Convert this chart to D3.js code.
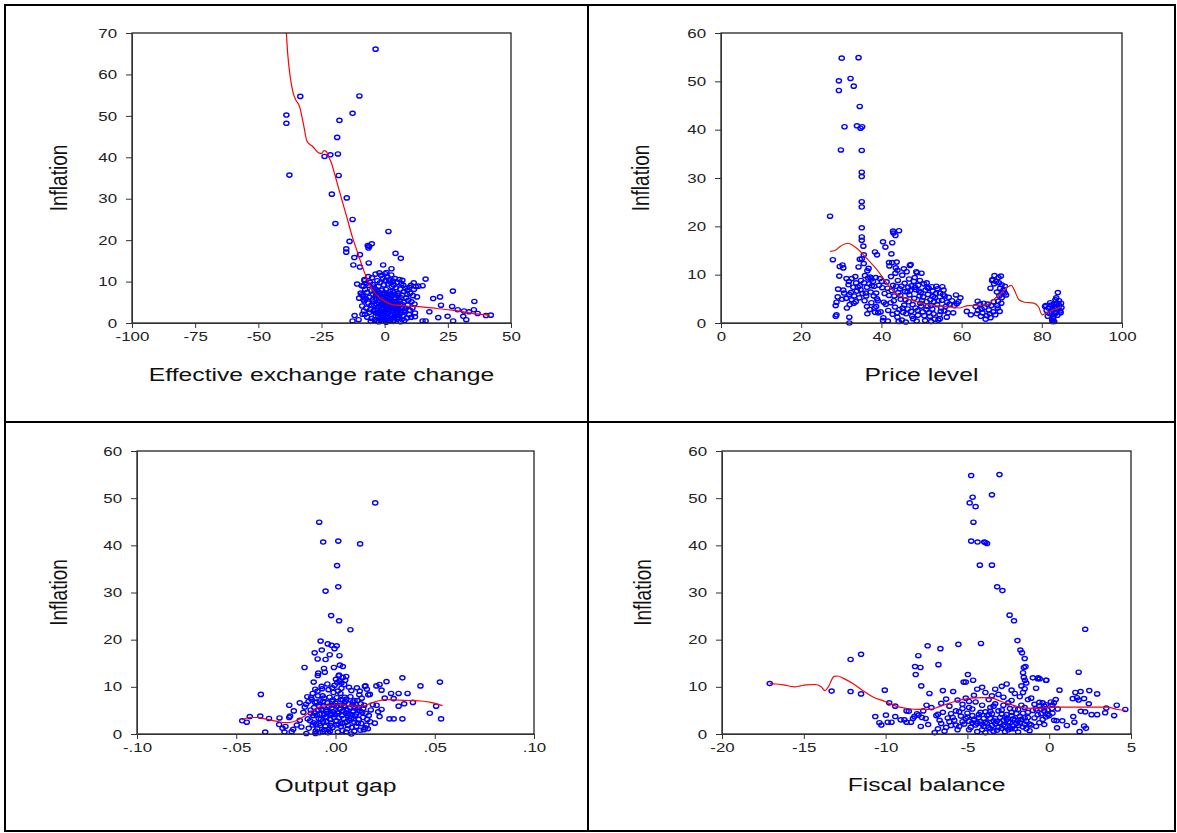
<!DOCTYPE html>
<html>
<head>
<meta charset="utf-8">
<script src="https://cdn.jsdelivr.net/npm/d3@7/dist/d3.min.js"></script>
<style>
  body { margin: 0; background: #fff; }
  svg { display: block; }
</style>
</head>
<body>
<div id="chart"></div>
<script>
// ---- tick values and labels ----
var inflationTicks70 = [0, 10, 20, 30, 40, 50, 60, 70];
var inflationTicks60 = [0, 10, 20, 30, 40, 50, 60];
var exchangeTicks = [-100, -75, -50, -25, 0, 25, 50];
var priceTicks = [0, 20, 40, 60, 80, 100];
var gapTicks = [-0.10, -0.05, 0, 0.05, 0.10];
var gapTickLabels = ["-.10", "-.05", ".00", ".05", ".10"];
var fiscalTicks = [-20, -15, -10, -5, 0, 5];

// ---- panel 1: effective exchange rate change vs inflation ----
var exchangePoints = [
  [-3.6,66.1],[-33.4,54.7],[-10,54.8],[-38.9,50.2],[-38.9,48.2],[-12.7,50.6],[-17.9,48.9],[-18.8,44.8],
  [-23.8,40.2],[-21.5,40.6],[-18.5,40.8],[-37.7,35.7],[-18.2,35.6],[-20.9,31.1],[-15,30.2],[-12.7,25],
  [-19.5,24],[1.5,22.1],[-13.9,19.7],[-15.2,17.9],[-15.2,17.1],[-6.7,18.7],[-6.1,18.5],[-5.1,19.1],
  [-6.4,18.1],[-9.8,16.5],[-12,15.8],[4.3,16.8],[6.4,15.6],[-12.4,14],[-6.3,14.5],[-0.6,14],[2.7,13.1],
  [-9.8,13.5],[16.2,10.6],[11.5,9.7],[13.3,8.9],[15,9],[12.8,6.3],[19.2,5.9],[21.9,6.3],[27,7.7],
  [35.5,5.2],[22.3,4.3],[17.7,2.7],[21.2,1.3],[24.9,1.6],[26.7,4],[28.9,3.2],[31.4,2.9],[33.4,2.7],
  [27.1,0.5],[32.3,0.8],[31.1,1.6],[35.3,3.2],[36.8,2.3],[40.1,1.8],[42,1.9],[15,0.5],[16.2,0.5],
  [12,1.5],[-12.7,0.5],[-10.3,0.8],[-11.9,1.8],[-8.8,2.1],[-8.2,2.9],[-10.1,6],[-9.1,6.8],[-8.3,5.6],
  [-10.9,9.4],[-9.1,9],[-8,10.2],
  [-8,10.5],[-7.2,9.6],[-6.5,11.2],[-5.8,9.8],[-5,10.9],[-4.3,8.7],[-3.6,11.8],[-2.9,10.2],[-2.1,12.1],
  [-1.4,11.5],[-0.7,10.8],[0.2,11.9],[1,11.2],[1.8,10.4],[2.6,11.6],[3.3,10.1],[4.1,10.7],[5,9.8],
  [5.8,10.5],[6.6,9.5],[7.4,9.1],[8.2,8.4],[9,7.9],[10.1,7.2],[11.2,6.6],[-9.5,7.2],[-8.6,6.5],[-7.7,8.1],
  [-6.9,7.4],[-6.1,6.2],[-5.3,7.8],[-4.6,6.9],[-3.8,8.2],[-3.1,7.1],[-2.4,8.9],[-1.7,6.8],[-1,7.9],
  [-0.3,9.2],[0.5,8.1],[1.3,9.4],[2.1,7.6],[2.9,8.8],[3.7,7.3],[4.5,8.5],[5.3,7.1],[6.1,8.2],[6.9,6.7],
  [7.7,7.6],[8.5,6.1],[9.4,5.5],[10.6,5.1],[11.8,4.6],[-8.9,4.1],[-8.1,5.3],[-7.3,3.6],[-6.5,4.8],
  [-5.7,3.2],[-4.9,5.6],[-4.1,4.3],[-3.3,5.9],[-2.5,3.9],[-1.8,5.2],[-1.1,4.6],[-0.4,6.1],[0.3,4.9],
  [1.1,6.3],[1.9,5.1],[2.7,6.6],[3.5,4.4],[4.3,5.8],[5.1,4.1],[5.9,5.4],[6.7,3.8],[7.5,5],[8.3,3.5],
  [9.1,4.3],[10,3.1],[11,3.6],[12,2.4],[-7.8,2.1],[-6.9,1.4],[-6,2.6],[-5.2,1.1],[-4.4,2.9],[-3.6,1.7],
  [-2.8,3.1],[-2,2.2],[-1.3,3.4],[-0.6,1.9],[0.1,2.8],[0.8,1.5],[1.6,3.3],[2.4,2.1],[3.2,3.6],[4,1.8],
  [4.8,2.9],[5.6,1.3],[6.4,2.5],[7.2,1.6],[8,2.7],[8.8,1.2],[9.7,2],[10.5,1.4],[-5.5,0.4],[-3.9,0.8],
  [-2.3,0.3],[-0.9,0.9],[0.6,0.2],[2,0.6],[3.4,0.4],[4.9,0.9],[6.3,0.3],[7.8,0.6],[-1.5,4.1],[0.9,3.9],
  [2.3,4.6],[-2.6,6.4],[1.4,7],[3.9,6.2],[-4.7,9.3],[0.4,10.3],[-0.2,5.3],[1.7,1.1],[-3.4,2.4],[3,1.2],
  [5.4,6.7],[-7.5,5.9],[-1.9,9.7],[2.2,9.9],[6.2,4.6],[8.9,6.9],[7,10.3],[-6.3,9.1],[0.7,12.2],[-1.2,1.3],
  [4.6,3.3],[-8.4,8.9],[3.6,9.2],[9.8,8.6],[11.6,8.1],[10.4,9.1],[12.3,8.8],
  [-3.8,3.1],[-3.2,4.6],[-2.7,2.6],[-2.2,5.4],[-1.6,2.9],[-1.2,6.2],[-0.8,3.7],[-0.3,2.4],[0.2,5.6],
  [0.6,3.4],[1,4.4],[1.5,2.4],[2,5.9],[2.5,3.1],[3,4.9],[3.4,2.7],[3.9,5.1],[4.4,2.2],[4.9,4.6],[5.4,3.5],
  [5.9,2.1],[-3.5,6.6],[-2.9,7.6],[-2.4,4.9],[-1.9,7.3],[-1.4,5.8],[-0.9,7.1],[-0.5,4.2],[0,7.3],[0.5,6.6],
  [0.9,5.2],[1.4,4.9],[1.9,6.8],[2.3,3.8],[2.8,5.3],[3.2,7.7],[3.7,3.9],[4.2,6.8],[4.7,5.2],[5.2,2.6],
  [6.5,6.1],[7.1,4.4],[7.9,3.1],[-4.5,5.1],[-5.2,4.4],[-4,7.7],[-3,0.4],[-1.6,0.7],[0.4,1.2],[1.2,0.5],
  [2.8,1.9],[3.8,0.7],[5.2,1.8],[6.8,0.9],[-0.1,0.8],[-2.5,1.6],[-1,2.6],[0.8,2.6],[2.6,4.2],[4.1,3.6]
];
var exchangeCurve = [
  [-39.3,75],[-38.9,70],[-38.4,65.2],[-37.4,59.5],[-36.2,55.5],[-35.2,53.9],[-33.7,52.3],[-32.2,48.2],
  [-30.7,43.8],[-28.5,42.6],[-26.2,41.1],[-25,40.9],[-24,41.6],[-23.1,41.4],[-22.2,40.2],[-21,38.5],
  [-19.5,35.3],[-17.3,30.5],[-15,25.6],[-12.8,20.8],[-10.6,16.8],[-8.3,12.7],[-6.1,9.5],[-3.9,7.3],
  [-1.6,5.9],[1.3,4.8],[4.3,4.3],[8.8,4.1],[14.7,3.9],[20.7,3.5],[26.7,3.1],[34.1,2.4],[41.6,1.9]
];

// ---- panel 2: price level vs inflation ----
var pricePoints = [
  [30.1,54.8],[34.3,54.9],[29.4,50.1],[29.4,48.1],[32.3,50.6],[33.1,49],[34.6,44.8],[30.8,40.6],[33.9,40.8],
  [35.2,40.6],[34.8,40.3],[29.9,35.8],[35.1,35.7],[35.1,31.2],[35.1,30.3],[35.1,25.1],[35.1,24],[27.2,22.1],
  [35.1,19.7],[35.1,17.8],[35.1,17.1],[35.5,15.9],[35.6,14.1],[34.6,13.2],[27.9,13.1],[40.4,16.8],[41,15.7],
  [43,18.6],[43.5,18.1],[44.4,19.1],[42.9,19],[42.7,16.6],[38.4,14.7],[38.9,14.1],[42.5,14.3],[41.9,12.5],
  [42.7,12.5],[47.1,11.9],[48.7,10.6],[50,10.3],[43.6,11.4],[44,10.9],[51.3,8.3],[29.6,11.7],[30.5,11.4],
  [30.3,12],[29.5,9.7],[31.3,9.2],[32.6,9.2],[29.2,7],[28.6,3.6],[28.8,4.3],[28.6,1.4],[28.8,1.7],[32,1.2],
  [32,0],[30.7,6.2],[32,5.9],[32.1,3.8],[32.6,4.8],[33.1,4.1],[33.6,4.4],[33,7.4],[34.1,7.4],[34.6,7.7],
  [35.7,8.3],[36.1,6.2],[36.4,7.4],[36.7,9.3],[37.5,9.1],[38.2,7.6],[38.7,6.2],[38.9,5],[38.7,3.4],[39.2,2.1],
  [38.4,2.2],[39.8,2.3],[40.4,0.5],[64,4.5],[61.3,2.4],[62.3,1.7],[68.2,9.8],[69.8,9.7],[67.7,9],[68.6,8.6],
  [69.3,8.3],[70,7.9],[67.2,7.2],[70.5,6.9],[70.8,6.2],[70,5.2],[69.1,4.5],[59.7,5.2],[58.8,4],[84,6.3],
  [83.6,5.2],[80.8,3.4],[82.7,0.3],
  [30.5,6.8],[31.2,5.1],[31.8,7.9],[32.4,6.3],[33.2,5.6],[33.9,6.6],[34.5,5.2],[35.3,6.1],[35.9,9.8],
  [36.5,10.8],[37.2,9.5],[37.9,8.6],[36.8,11.3],[35.6,12.3],[34.3,11.6],[33.5,9.6],[35.1,13.3],[34.9,8.8],
  [36.2,5.6],[37.5,4.2],[38.3,3.1],[37.1,2.8],[36.5,1.9],[39.1,4.6],[39.6,9.2],[38.6,9.4],[37.6,7.7],[36.9,8.1],
  [40.2,7.3],[40.8,6.1],[41.3,8.5],[41.9,5.7],[42.4,9.6],[42.9,7.8],[43.5,10.3],[44.1,8.8],[44.6,7.1],
  [45.2,9.9],[45.8,8.2],[46.3,10.6],[46.9,9.1],[47.5,7.7],[48.1,8.6],[48.6,6.9],[49.2,7.8],[49.8,6.3],
  [50.4,5.4],[51,6.8],[51.6,5.9],[52.2,4.8],[52.8,6.6],[53.4,5.2],[54,7.1],[54.6,6.2],[55.2,7.5],[55.8,5.6],
  [56.4,4.3],[57,3.9],[57.6,4.6],[58.2,3.6],[41.1,3.9],[41.7,2.6],[42.3,4.2],[42.8,1.8],[43.4,3.3],[44,1.2],
  [44.5,2.8],[45.1,0.6],[45.7,3.7],[46.2,1.9],[46.8,4.4],[47.4,2.4],[47.9,0.9],[48.5,3.1],[49.1,1.6],
  [49.7,4.1],[50.3,2.3],[50.9,0.5],[51.5,3.4],[52.1,1.4],[52.7,2.9],[53.3,0.8],[53.9,3.8],[54.5,1.7],
  [55.1,4.7],[55.7,2.5],[56.3,1.2],[43.2,5.6],[44.8,4.9],[46.5,6.4],[48.2,5.1],[49.9,3.5],[51.9,2.1],
  [53.1,4.4],[54.9,3.1],[56.8,5.3],[42,11.8],[43.8,12.6],[45.6,11.2],[47.3,12.1],[48.9,10.4],[44.3,0.3],
  [46.1,0.2],[48.8,0.4],[52.4,0.3],[54.2,0.6],[40.5,1.1],[41.6,0.4],[57.9,2.1],[59.2,4.4],[58.6,5.8],
  [50.6,8.1],[52.5,7.5],[47,5.8],[45.4,2.2],[43.7,7.6],
  [63.5,3.4],[64.1,2.6],[64.6,3.9],[65.2,2.1],[65.7,3.2],[66.3,1.5],[66.8,2.7],[67.4,3.6],[67.9,2.3],
  [68.4,1.7],[69,3.1],[69.5,2.4],[65.5,4.1],[63.8,1.9],[66,0.8],[67.2,1.1],[68.8,6.4],[69.6,7.2],[70.3,6.4],
  [68.1,8.1],[67.6,8.8],[69.2,9.4],[70.8,7.6],[69.9,4.1],[68.9,3.6],[71.1,5.8],
  [81.2,2.6],[81.7,3.1],[82,1.9],[82.3,3.7],[82.6,2.8],[82.9,1.3],[83.2,3.3],[83.5,2.2],[83.8,4.1],
  [84.1,2.9],[84.4,3.6],[84.7,2.1],[84.9,3.2],[81.5,1.4],[82.8,0.9],[83.1,0.3],[82.6,0.6],[83.9,1.6],
  [84.3,4.6],[83.4,4.8],[82.1,4.2],[81,3.6],[84.6,2.5],[83,3.9],
  [43.1,4.6],[43.9,2.1],[44.7,5.7],[45.3,3.1],[45.9,6.5],[46.6,2.9],[47.2,6.7],[47.8,3.8],[48.4,7.4],
  [49,2.6],[49.5,5.6],[50.1,4.6],[50.7,1.5],[51.3,4.4],[51.8,7.2],[52.4,3.6],[53,1.9],[53.6,6.1],[54.2,4.6],
  [54.8,2.4],[55.4,5.9],[56,3.4],[56.6,2.1],[44.2,6.3],[46,4.8],[47.7,1.4],[49.4,6.6],[51.2,2.8],[52.9,5.5],
  [54.6,0.9],[42.6,6.7],[41.5,7.2],[40.6,4.3],[40.1,8.6],[39.4,7.8],[38.1,5.6],[37.3,6.4],[36.4,3.4],
  [35.8,4.6],[34.8,6.9],[33.7,8.3],[31.9,8.6],[31.4,3.1],[30.2,4.9],[29.1,5.4],[45,7.6],[46.7,7.4],[48.3,9.4],
  [49.6,8.8],[51.5,7.3],[53.7,7.6],[55.5,6.8],[65,2.9],[66.5,3.9],[67,1.9],[64.8,1.4],[68,4.4],[69.4,5.6],
  [83.3,1.9],[82.4,2.3],[84.8,4.1],[83.7,3]
];
var priceCurve = [
  [27.2,14.8],[28.4,15],[29.8,15.9],[31.6,16.5],[32.6,16.2],[34.5,15],[36.3,13.4],[38.2,11.7],[40.1,9.7],
  [41.9,7.6],[43.4,6.2],[45.2,5.4],[47.6,4.7],[50.4,4],[53.2,3.6],[56,3.4],[59.3,3.1],[61.6,3.6],[64.4,3.7],
  [66.3,3.8],[68.2,5],[70,6.2],[71.4,7.4],[72.4,7.8],[73.1,6.9],[74.3,4.8],[75.7,4.3],[78,4.1],[79.2,3.3],
  [80.1,1.7],[81.3,2.1],[83.1,2.8],[84.8,3.3]
];

// ---- panel 3: output gap vs inflation ----
var gapPoints = [
  [0.02,49],[-0.0082,44.9],[-0.0062,40.7],[0.0014,40.9],[0.0124,40.3],[0.0008,35.7],[0.0014,31.2],[-0.005,30.3],
  [-0.0022,25.1],[0.0018,24],[0.0075,22.1],[-0.0075,19.7],[-0.0039,19.1],[-0.002,18.8],[0.0006,18.7],
  [-0.0005,18.1],[-0.0069,17.8],[-0.0105,17.2],[-0.009,15.9],[-0.005,15.8],[-0.0029,16.8],[0.002,16.6],
  [-0.0156,14.1],[-0.0058,13.9],[-0.0008,14.1],[0.0022,14.6],[0.0037,14.3],[-0.0054,13.1],[-0.0087,12.9],
  [-0.0089,12.4],[0.0018,12.5],[0.0037,12],[0.0049,11.4],[0.0054,12.2],[-0.011,11],[0.0257,11.1],[0.0337,11.9],
  [0.0526,11],[0.0428,10.2],[0.0206,10.2],[0.0222,10.5],[0.0151,10.2],[-0.0376,8.4],[0.028,8.6],[0.0318,8.6],
  [0.0363,8.6],[0.0232,9.3],[0.0248,7.6],[0.0293,7.5],[0.039,6.7],[0.0346,6.4],[0.0318,5.9],[0.0507,5.9],
  [0.0475,4.4],[0.0532,3.2],[0.0272,3.2],[0.0293,3.2],[0.0337,3.2],[0.0198,2.3],[0.0215,4.7],[0.0222,3.7],
  [0.0232,5.2],[0.0207,6.1],[-0.047,2.8],[-0.0447,2.5],[-0.0432,3.7],[-0.0379,3.8],[-0.0335,3.3],[-0.0354,0.4],
  [-0.0282,3.4],[-0.0284,2],[-0.0267,1.2],[-0.0252,1.6],[-0.0233,6.1],[-0.0229,3.8],[-0.0233,3.5],[-0.021,4.9],
  [-0.018,6.6],[-0.0142,7.9],[-0.0123,7.7],[-0.0257,0.4],[-0.0221,0.5],[-0.0213,1],[-0.0147,0.1],[-0.0101,0.1],
  [-0.008,0.3],[0.008,0],
  [-0.014,3.2],[-0.0125,5.1],[-0.011,2.4],[-0.0095,6.8],[-0.008,4.2],[-0.0065,8.1],[-0.005,3.6],[-0.0035,9.4],
  [-0.002,5.5],[-0.0005,10.3],[0.001,4.7],[0.0025,8.6],[0.004,3.3],[0.0055,7.4],[0.007,2.9],[0.0085,6.2],
  [0.01,3.8],[0.0115,5.3],[0.013,2.2],[0.0145,6.1],[0.016,3.1],[-0.0135,1.2],[-0.012,7.3],[-0.0105,4.4],
  [-0.009,9.1],[-0.0075,1.8],[-0.006,5.9],[-0.0045,2.7],[-0.003,7.8],[-0.0015,1.4],[0,6.5],[0.0015,2.1],
  [0.003,9.7],[0.0045,5.8],[0.006,1.1],[0.0075,7.9],[0.009,4.9],[0.0105,1.6],[0.012,8.3],[0.0135,4.6],
  [0.015,1.3],[-0.0115,8.6],[-0.01,0.6],[-0.0085,3.3],[-0.007,10.1],[-0.0055,0.9],[-0.004,6.6],[-0.0025,4.1],
  [-0.001,8.8],[0.0005,2.8],[0.002,11.2],[0.0035,0.7],[0.005,6.9],[0.0065,4.3],[0.008,9.2],[0.0095,2.5],
  [0.011,7.1],[0.0125,0.8],[0.014,5.4],[0.0165,8.3],[-0.0148,6.3],[-0.0112,3.9],[-0.0078,7],[-0.0042,4.8],
  [-0.0008,3.5],[0.0028,6.1],[0.0062,3.9],[0.0098,5.7],[0.0132,7.6],[-0.0128,2.8],[-0.0092,1.1],[-0.0058,4.1],
  [-0.0022,2.3],[0.0012,9.1],[0.0048,2.4],[0.0082,1.4],[0.0118,3.1],[-0.0162,4.6],[-0.018,2.9],[-0.0172,1.5],
  [-0.0155,5.7],[-0.0195,1.9],[0.0012,0.4],[0.0032,3.9],[-0.0038,0.3],[0.0044,10.5],[0.0002,11.6],[0.0016,12.3],
  [-0.0068,9.6],[-0.0102,9.5],[-0.0088,8.1],[0.0068,9.9],[0.0108,9.8],[0.0122,9.1],[0.0148,10.1],[0.0158,9.5],
  [0.0173,8.4],[0.0188,6.2],[0.0178,5.1],[0.0168,3.9],[0.0175,2.6],[0.0156,1.9],[0.0163,1.1],[0.0142,0.9],
  [-0.0014,4.7],[0.0022,5.3],[0.0052,4.5],[-0.0062,2.6],[-0.0108,5.6],[0.0088,6.8],[-0.0018,6.9],[0.0006,7.7],
  [-0.0048,5.1],[0.0072,5.6],[0.0036,7.2],[-0.0027,3.1],[0.0104,4.2],[-0.0082,5.8],[0.0128,6.4],
  [-0.0098,2.1],[-0.0086,5.1],[-0.0074,3.1],[-0.0062,6.9],[-0.0052,1.6],[-0.0044,4.4],[-0.0033,5.9],
  [-0.0024,1.8],[-0.0012,7.2],[-0.0003,4.1],[0.0008,5.9],[0.0018,3.4],[0.0027,1.6],[0.0038,4.9],[0.0047,7.8],
  [0.0058,2.6],[0.0066,6.4],[0.0077,3.3],[0.0087,4.7],[0.0096,7.1],[0.0112,2.3],[0.0122,4.9],[-0.0103,6.7],
  [-0.0094,4],[-0.0081,2.2],[-0.007,5.2],[-0.0058,7.6],[-0.0046,3.5],[-0.0034,1],[-0.0018,4.3],[-0.0006,6.1],
  [0.0004,1.9],[0.0014,4.4],[0.0026,7.3],[0.0034,2.2],[0.0042,6],[0.0056,5.2],[0.0064,1.8],[0.0074,4.2],
  [0.0092,3.2],[0.0102,6.2],[0.0116,5.6],[-0.0124,4.4],[-0.0136,6.9],[-0.0115,1.9],[0.0138,3.5],[0.0152,4.4],
  [-0.0016,9.8],[0.0009,10.9],[-0.0041,10.6],[0.003,10.8],[-0.0028,0.6],[0.0053,0.4],[-0.0065,0.5],[0.0095,0.6]
];
var gapCurve = [
  [-0.047,3],[-0.0431,3.5],[-0.0393,3.5],[-0.0356,3.2],[-0.0308,2.8],[-0.0251,2.4],[-0.0213,2.6],[-0.0175,3.3],
  [-0.0138,4.4],[-0.01,5.4],[-0.0062,5.9],[-0.0024,6.1],[0.0014,6.2],[0.0052,6.1],[0.01,5.9],[0.0137,5.9],
  [0.0175,6.5],[0.0213,7],[0.0261,7.3],[0.0318,7.2],[0.0374,7.1],[0.0431,7],[0.0479,6.7],[0.0507,6.4],[0.0539,6]
];

// ---- panel 4: fiscal balance vs inflation ----
var fiscalPoints = [
  [-4.77,54.8],[-3.04,55],[-3.5,50.7],[-4.68,50.2],[-4.86,49],[-4.5,48.2],[-4.63,44.9],[-4.77,40.9],[-4.38,40.7],
  [-3.97,40.7],[-3.9,40.6],[-3.8,40.4],[-4.24,35.8],[-3.5,35.8],[-3.18,31.2],[-2.86,30.4],[-2.42,25.2],[-2.15,24],
  [2.2,22.2],[-1.94,19.8],[-4.17,19.2],[-5.55,19],[-7.43,18.7],[-6.65,18.1],[-1.76,17.8],[-1.66,17.2],[-11.5,16.9],
  [-12.14,15.8],[-8,16.6],[-1.5,16],[-8.2,14.3],[-7.87,14.1],[-6.77,14.7],[-1.55,14.1],[-1.45,14.3],[-8.16,12.6],
  [-4.97,12.6],[1.8,13.1],[-1.6,13],[-1.55,12],[-1.48,11.4],[-17.08,10.7],[-7.82,10.2],[-10.05,9.3],[-13.3,9.1],
  [-12.14,9],[-11.5,8.5],[-7.32,8.6],[-6.5,9.2],[-5.87,9],[-4.65,11.4],[-5.23,11],[-5.1,11],[-0.58,11.7],
  [-0.67,11.9],[-0.17,11.4],[-0.8,9.7],[0.63,9.3],[1.92,9],[1.6,8.8],[1.7,7.7],[2.93,8.5],[2.45,9.2],[2.13,7.5],
  [1.8,7.2],[1.44,7.5],[-9.78,6.6],[-9.41,5.9],[-10.63,3.7],[-9.98,4],[-10.38,2.4],[-10.26,1.9],[-9.87,2.5],
  [-9.64,2.5],[-9.41,3.7],[-9.08,3],[-8.85,3],[-8.72,4.9],[-8.58,4.8],[-8.72,2.5],[-8.45,2.5],[-8.33,3.3],
  [-8.24,3.7],[-8.08,4.3],[-7.99,4],[-7.78,3.5],[-7.85,1.6],[-7.4,2],[-7.55,3.3],[4.65,5.2],[4.13,6.1],[3.97,3.9],
  [3.49,5.5],[3.42,4.5],[2.93,4.1],[2.59,4.1],[2.42,6.4],[2.2,4.7],[1.93,4.8],[1.54,2.5],[1.47,3.7],[1.08,1.8],
  [0.8,2.8],[0.48,1.3],[1.86,0.5],[2.25,1.2],[2.13,1.7],[0.45,2.8],[0.52,5.3],[0.29,6.6],[0.17,5.4],
  [-7,0.3],[-6.8,1.1],[-6.6,2.2],[-6.4,0.6],[-6.2,3.4],[-6,1.8],[-5.8,2.9],[-5.6,0.9],[-5.4,3.8],[-5.2,2.1],
  [-5,4.4],[-4.8,1.4],[-4.6,3.1],[-4.4,0.5],[-4.2,2.6],[-4,1.6],[-3.8,3.9],[-3.6,1.1],[-3.4,2.8],[-3.2,0.8],
  [-3,3.5],[-2.8,1.9],[-2.6,4.1],[-2.4,1.3],[-2.2,3.2],[-2,2.2],[-1.8,3.7],[-1.6,1.5],[-1.4,2.7],[-1.2,0.7],
  [-6.9,3.9],[-6.5,4.6],[-6.1,5.9],[-5.7,4.9],[-5.3,6.3],[-4.9,5.6],[-4.5,6.8],[-4.1,6.1],[-3.7,7.3],[-3.3,6.4],
  [-2.9,5.1],[-2.5,6.6],[-2.1,5.3],[-1.7,6.1],[-1.3,4.6],[-4.3,4.1],[-3.9,4.7],[-3.5,4.3],[-3.1,4.9],[-2.7,3.6],
  [-2.3,4.6],[-5.9,3.5],[-5.5,1.6],[-5.1,3.3],[-4.7,2.4],[-3.3,2.2],[-2.9,1.2],[-2.5,2.6],[-2.1,1.1],[-1.9,2.9],
  [-1.5,3.4],[-1.1,1.9],[-3.7,1.4],[-4.1,2.1],[-4.9,0.9],[-3.9,0.3],[-2.7,0.5],[-1.9,0.4],[-3.5,8.1],[-4.1,9.9],
  [-3.9,8.8],[-3.3,9.5],[-2.9,10.1],[-2.6,10.6],[-2.3,9.3],[-2.1,8.6],[-2.8,7.8],[-3.1,8.4],[-4.4,9.5],[-4.6,8.2],
  [-4.9,6.9],[-5.1,7.6],[-5.6,7.2],[-6.3,7.4],[-6.6,6.5],[-7.2,5.6],[-7.5,6.1],[-7.7,4.9],[-6.8,4.2],[-1.6,8.8],
  [-1.5,9.6],[-1.7,10.2],[-1.4,10.8],[-1.3,7.3],[-1.8,7.9],[-1.1,7.6],[-0.9,6.3],[-0.6,5.9],[-0.4,6.6],[-0.3,4.9],
  [-0.5,4.3],[-0.2,3.6],[-0.4,3.1],[-0.1,5.1],[0.1,6.8],[0.2,4.4],[0.4,7.3],[-0.6,2.4],[-0.8,1.6],[-0.3,2],
  [0,3.9],[0.3,2.9],[-1,11.9],[-0.8,5.3],[-0.7,11.7],[-0.2,11.4],[-4.6,2.9],[-5.3,5.4],[-6.1,2.6],[-2.3,7.1],[-3.6,5.6],
  [-4.9,2.7],[-4.7,3.9],[-4.5,1.9],[-4.3,3.5],[-4.1,0.9],[-3.9,2.5],[-3.7,4.1],[-3.5,1.8],[-3.3,3.3],[-3.1,1.4],
  [-3,2.4],[-2.9,4.2],[-2.7,1.6],[-2.6,3.1],[-2.5,0.9],[-2.4,2.4],[-2.3,3.9],[-2.2,1.7],[-2.1,2.9],[-2,4.3],
  [-1.9,1.8],[-1.8,2.4],[-1.7,3.1],[-1.6,4.4],[-1.5,2.1],[-1.4,1.1],[-3.8,2.2],[-3.6,3.3],[-3.4,0.6],[-3.2,2.7],
  [-2.8,2.9],[-2.3,1.1],[-4,3.3],[-4.4,2.3],[-5.3,2.6],[-5.7,1.9],[-6.3,1.4],[-6.7,2.9],[-5,3.6],[-4.2,4.6],
  [-3.6,4.8],[-2.4,5.4],[-1.9,5.2],[-1.5,5.6],[-2.8,6.1],[-3.4,5.9],[-4.7,5.3],[-5.5,4.7],[-6,4.3],[-1.3,3.5],
  [-1.2,2.1],[-0.9,3.4],[-0.7,4.1],[-0.5,5.3],[-0.3,5.9],[-1,5],[-0.1,4.1],[-0.6,6.7],[-0.2,6.2],[0.2,6.1]
];
var fiscalCurve = [
  [-17.08,10.7],[-16.7,10.6],[-16.25,10.4],[-15.56,10],[-15.2,10.2],[-14.87,10.4],[-14.3,10.5],[-13.94,10],
  [-13.7,9.2],[-13.5,10],[-13.15,12.2],[-12.92,12.3],[-12.58,11.8],[-12,10.7],[-11.43,9.3],[-10.74,7.8],
  [-10.05,6.9],[-9.36,5.9],[-8.67,5.4],[-7.98,5.2],[-7.29,5.2],[-6.72,5.8],[-6.14,6.5],[-5.45,7.2],[-4.77,7.6],
  [-4.08,7.7],[-3.5,7.6],[-2.93,6.9],[-2.47,6.4],[-2.01,5.9],[-1.44,5.5],[-0.63,5.4],[0.06,5.7],[0.75,5.7],
  [1.67,5.7],[2.59,5.7],[3.51,5.7],[4.2,5.2],[4.66,5]
];

// The reference picture is stretched sideways, so text gets the same horizontal scale
var SX = 1.3;
var FONT = "'Liberation Sans', Arial, Helvetica, sans-serif";

var panels = [
  { id: "p1", points: exchangePoints, curve: exchangeCurve, curveColor: "#ff0000",
    xDomain: [-100, 50], yDomain: [0, 70], xTicks: exchangeTicks, xLabels: exchangeTicks.map(String),
    yTicks: inflationTicks70, title: "Effective exchange rate change",
    left: 132, right: 511, top: 33, bottom: 323, yLabelX: 67, titleY: 381 },
  { id: "p2", points: pricePoints, curve: priceCurve, curveColor: "#d81e05",
    xDomain: [0, 100], yDomain: [0, 60], xTicks: priceTicks, xLabels: priceTicks.map(String),
    yTicks: inflationTicks60, title: "Price level",
    left: 721, right: 1122, top: 33, bottom: 323, yLabelX: 649, titleY: 381 },
  { id: "p3", points: gapPoints, curve: gapCurve, curveColor: "#ff0000",
    xDomain: [-0.10, 0.10], yDomain: [0, 60], xTicks: gapTicks, xLabels: gapTickLabels,
    yTicks: inflationTicks60, title: "Output gap",
    left: 137, right: 534, top: 451, bottom: 734, yLabelX: 67, titleY: 792 },
  { id: "p4", points: fiscalPoints, curve: fiscalCurve, curveColor: "#ff0000",
    xDomain: [-20, 5], yDomain: [0, 60], xTicks: fiscalTicks, xLabels: fiscalTicks.map(String),
    yTicks: inflationTicks60, title: "Fiscal balance",
    left: 722, right: 1131, top: 451, bottom: 734, yLabelX: 651, titleY: 791 }
];

var svg = d3.select("#chart").append("svg")
    .attr("width", 1177)
    .attr("height", 833);

svg.append("rect").attr("width", 1177).attr("height", 833).attr("fill", "#fff");

panels.forEach(drawPanel);

// table-like frame around the four graphs
var frame = svg.append("g").attr("stroke", "#000").attr("stroke-width", 2).attr("fill", "none");
frame.append("rect").attr("x", 5).attr("y", 5).attr("width", 1170).attr("height", 826);
frame.append("line").attr("x1", 588).attr("x2", 588).attr("y1", 5).attr("y2", 831);
frame.append("line").attr("x1", 5).attr("x2", 1175).attr("y1", 422).attr("y2", 422);

function drawPanel(p) {
  var x = d3.scaleLinear().domain(p.xDomain).range([p.left, p.right]);
  var y = d3.scaleLinear().domain(p.yDomain).range([p.bottom, p.top]);

  var g = svg.append("g").attr("id", p.id);

  g.append("clipPath").attr("id", p.id + "-clip")
    .append("rect")
      .attr("x", p.left).attr("y", p.top)
      .attr("width", p.right - p.left).attr("height", p.bottom - p.top);

  // scatter markers: small open blue circles
  g.append("g").selectAll("ellipse")
      .data(p.points)
    .enter().append("ellipse")
      .attr("cx", function(d) { return x(d[0]); })
      .attr("cy", function(d) { return y(d[1]); })
      .attr("rx", 2.6)
      .attr("ry", 2.1)
      .attr("fill", "none")
      .attr("stroke", "#0000ff")
      .attr("stroke-width", 1.4);

  // smoothed fit line
  var line = d3.line()
      .x(function(d) { return x(d[0]); })
      .y(function(d) { return y(d[1]); })
      .curve(d3.curveMonotoneX);

  g.append("path")
      .datum(p.curve)
      .attr("d", line)
      .attr("clip-path", "url(#" + p.id + "-clip)")
      .attr("fill", "none")
      .attr("stroke", p.curveColor)
      .attr("stroke-width", 1.2);

  // box round the plot area
  g.append("rect")
      .attr("x", p.left).attr("y", p.top)
      .attr("width", p.right - p.left).attr("height", p.bottom - p.top)
      .attr("fill", "none")
      .attr("stroke", "#111")
      .attr("stroke-width", 1.2);

  var xAxis = d3.axisBottom(x)
      .tickValues(p.xTicks)
      .tickFormat(function(d, i) { return p.xLabels[i]; })
      .tickSize(5)
      .tickSizeOuter(0);

  var gx = g.append("g")
      .attr("transform", "translate(0," + p.bottom + ")")
      .call(xAxis)
      .attr("color", "#333")
      .attr("font-family", FONT)
      .attr("font-size", 13);
  gx.selectAll("text")
      .attr("y", 8.5)
      .attr("fill", "#222")
      .attr("transform", "scale(" + SX + ",1)");

  var yAxis = d3.axisLeft(y)
      .tickValues(p.yTicks)
      .tickSize(6)
      .tickSizeOuter(0);

  var gy = g.append("g")
      .attr("transform", "translate(" + p.left + ",0)")
      .call(yAxis)
      .attr("color", "#333")
      .attr("font-family", FONT)
      .attr("font-size", 13);
  gy.selectAll("text")
      .attr("x", -11.5)
      .attr("fill", "#222")
      .attr("transform", "scale(" + SX + ",1)");

  // axis titles
  g.append("text")
      .attr("transform", "translate(" + (p.left + p.right) / 2 + "," + p.titleY + ") scale(" + SX + ",1)")
      .attr("text-anchor", "middle")
      .attr("font-family", FONT)
      .attr("font-size", 19)
      .attr("fill", "#111")
      .text(p.title);

  g.append("text")
      .attr("transform", "translate(" + p.yLabelX + "," + (p.top + p.bottom) / 2 + ") scale(" + SX + ",1) rotate(-90)")
      .attr("text-anchor", "middle")
      .attr("font-family", FONT)
      .attr("font-size", 19)
      .attr("fill", "#111")
      .text("Inflation");
}
</script>
</body>
</html>
